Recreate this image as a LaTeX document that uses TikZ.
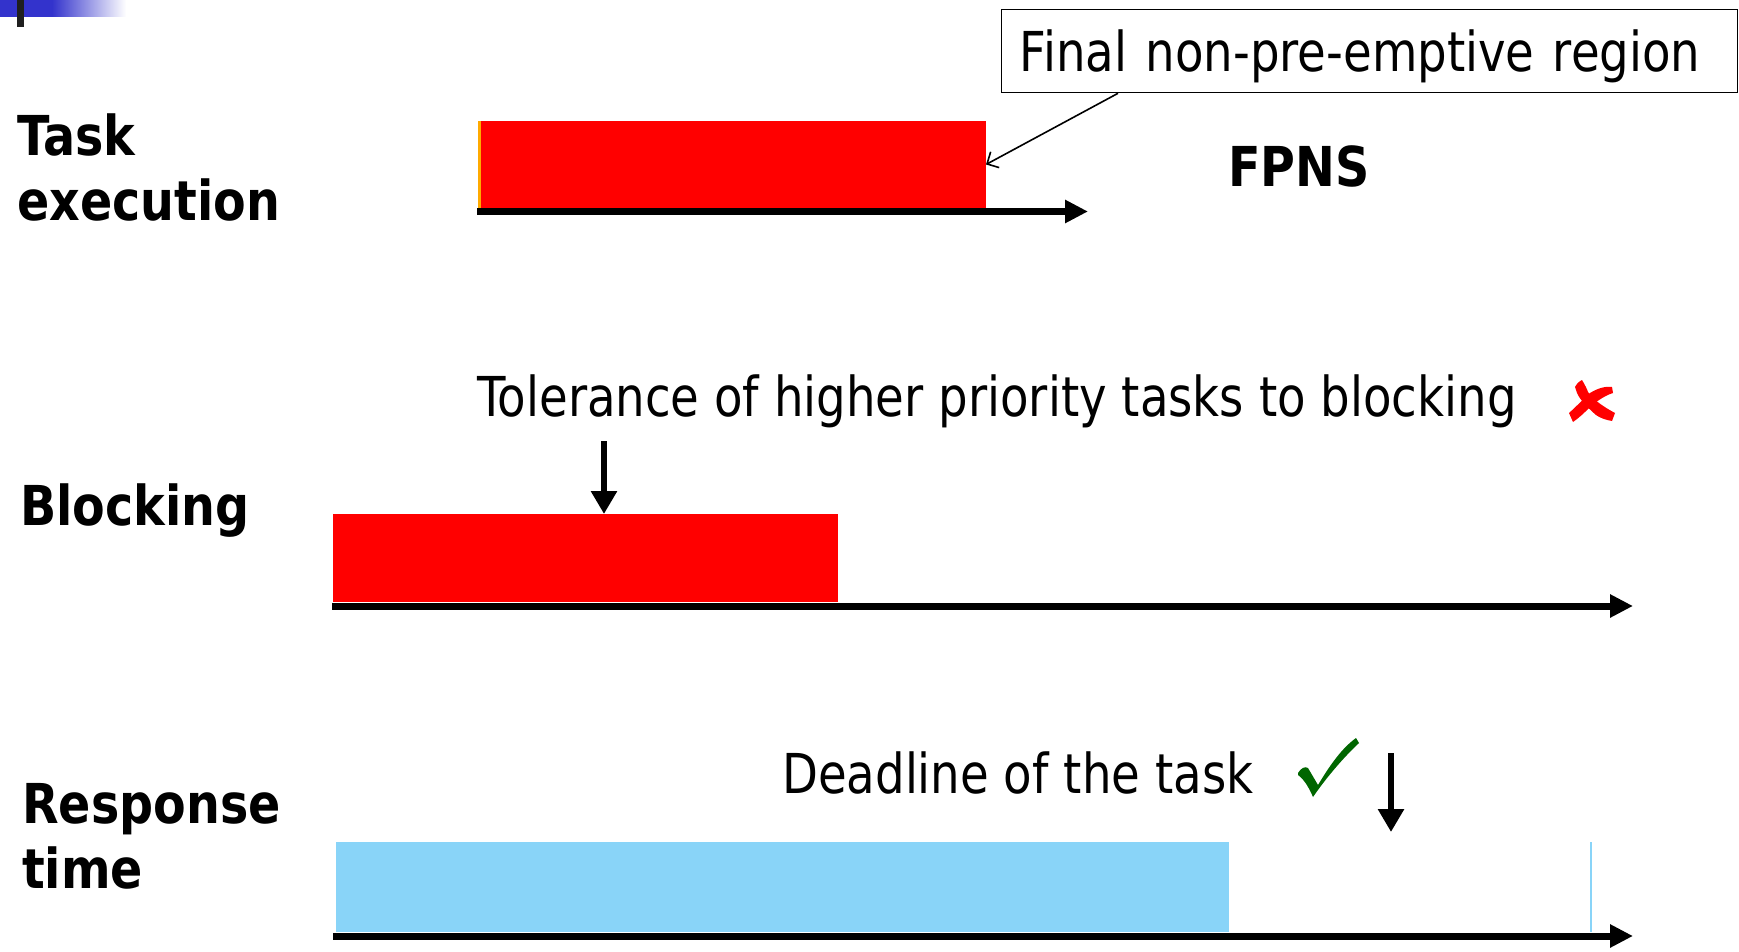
\documentclass[tikz,border=0pt]{standalone}
\usepackage{fontspec}
\setmainfont{DejaVu Sans}[FakeStretch=0.848, BoldFeatures={FakeStretch=0.865}]
\usetikzlibrary{arrows.meta}
\definecolor{barred}{RGB}{255,0,0}
\definecolor{barblue}{RGB}{137,212,248}
\definecolor{chkgreen}{RGB}{0,102,0}
\definecolor{hdrblue}{RGB}{51,51,204}
\definecolor{sliver}{RGB}{255,170,0}
\begin{document}
\begin{tikzpicture}[x=1pt,y=-1pt,
  lbl/.style={inner sep=0pt, font=\fontsize{55}{65}\selectfont\bfseries, align=left},
  txt/.style={inner sep=0pt, font=\fontsize{55}{65}\selectfont},
  bar/.style={inner sep=0pt, outer sep=0pt, draw=none, anchor=north west},
  axis/.style={line width=7pt, -{Triangle[length=23pt,width=22pt]}},
  downarr/.style={line width=6.5pt, -{Triangle[length=23pt,width=25pt]}},
  callout/.style={line width=1.6pt, -{Straight Barb[length=9pt,width=18pt]}},
]
\useasboundingbox (0,0) rectangle (1739,952);
\fill[white] (0,0) rectangle (1739,952);

% header decoration
\fill[hdrblue] (0,0) rectangle (52,17);
\shade[left color=hdrblue, right color=white] (52,0) rectangle (126,17);
\fill[black!88] (17,0) rectangle (24,27);

% labels
\node[lbl, anchor=north west] (task) at (17,114) {Task\\execution};
\node[lbl, anchor=base west] (blocking) at (20,525) {Blocking};
\node[lbl, anchor=north west] (resp) at (22,783) {Response\\time};
\node[lbl, anchor=base west] (fpns) at (1228,187) {FPNS};

% row 1
\node[bar, fill=barred, minimum width=506pt, minimum height=87pt] (bar1) at (480,121) {};
\node[bar, fill=sliver, minimum width=2.5pt, minimum height=87pt] (sliv) at (478,121) {};
\coordinate (ax1s) at (477,211.5);
\coordinate (ax1e) at (1088,211.5);
\draw[axis] (ax1s) -- (ax1e);

\node[draw, line width=1.3pt, anchor=north west, inner xsep=18pt, inner ysep=0pt,
      text width=700pt, align=left, text height=40pt, text depth=0pt,
      minimum height=83pt, font=\fontsize{55}{65}\selectfont] (box) at (1001,9)
      {Final non-pre-emptive region};
\draw[callout] ([xshift=117pt]box.south west) -- (bar1.east);

% row 2
\node[txt, anchor=base west] (tol) at (477,416) {Tolerance of higher priority tasks to blocking};
\node[bar, fill=barred, minimum width=505pt, minimum height=88pt] (bar2) at (333,514) {};
\coordinate (ax2s) at (332,606);
\coordinate (ax2e) at (1633,606);
\draw[axis] (ax2s) -- (ax2e);
\coordinate (d1s) at (604,441);
\draw[downarr] (d1s) -- (d1s |- bar2.north);

% red cross
\fill[barred] (1575,387) .. controls (1577,383) and (1580,381) .. (1582,380)
  .. controls (1585,385) and (1587,389) .. (1588,392)
  .. controls (1592,398) and (1600,405) .. (1615,413)
  -- (1612,421)
  .. controls (1606,420) and (1600,418) .. (1596,415)
  .. controls (1588,408) and (1580,400) .. (1577,393) -- cycle;
\fill[barred] (1569,413) -- (1573,422)
  .. controls (1580,417) and (1584,413) .. (1587,410)
  .. controls (1593,404) and (1603,396) .. (1613,393)
  -- (1612,387)
  .. controls (1606,386) and (1598,388) .. (1590,393)
  .. controls (1584,398) and (1578,405) .. (1569,413) -- cycle;

% row 3
\node[txt, anchor=base west] (dead) at (782,793) {Deadline of the task};
\node[bar, fill=barblue, minimum width=893pt, minimum height=90pt] (bar3) at (336,842) {};
\draw[barblue, line width=1.2pt] (1591,842) -- (1591,932);
\coordinate (ax3s) at (333,936);
\coordinate (ax3e) at (1633,936);
\draw[axis] (ax3s) -- (ax3e);
\coordinate (d2s) at (1391,753);
\coordinate (d2e) at (1391,832);
\draw[downarr] (d2s) -- (d2e);

% check mark
\fill[chkgreen] (1298,773) .. controls (1301,768) and (1305,766) .. (1308,768)
  -- (1318,785)
  .. controls (1330,765) and (1342,748) .. (1356,738)
  -- (1359,743)
  .. controls (1343,758) and (1326,778) .. (1313,797)
  .. controls (1310,790) and (1305,780) .. (1298,775) -- cycle;
\end{tikzpicture}
\end{document}
